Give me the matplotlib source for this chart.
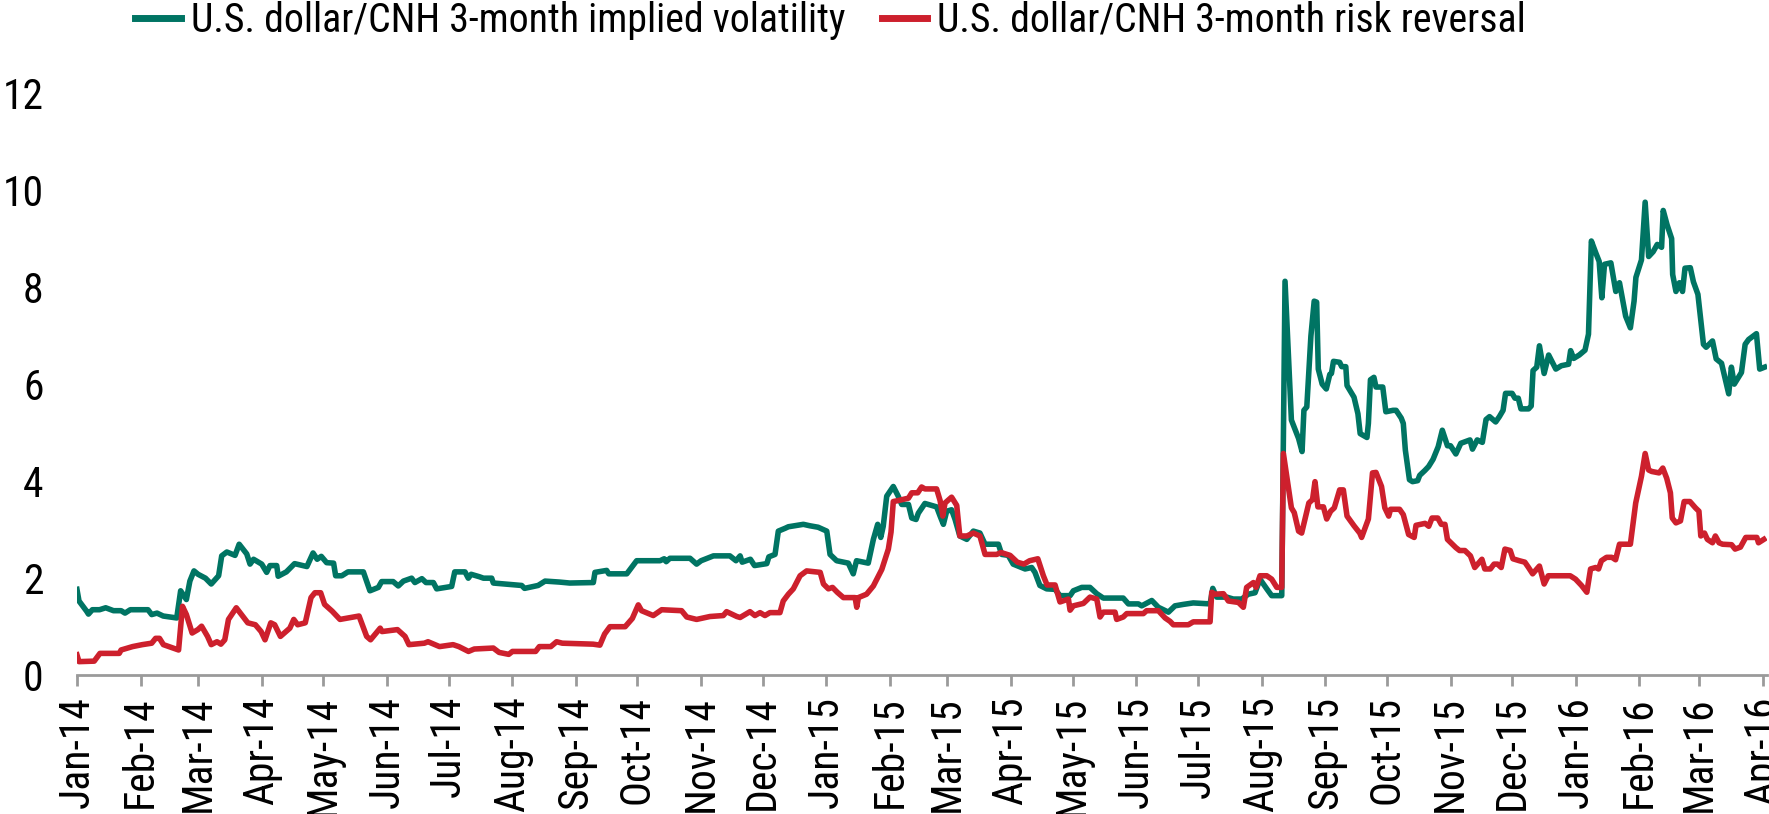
import matplotlib
matplotlib.use("Agg")
import matplotlib.pyplot as plt
import matplotlib.dates as mdates
from matplotlib.lines import Line2D
import pandas as pd

# ---------------- data ----------------
start_date = "2014-01-01"   # day 0 of the day offsets below

series_labels = ["U.S. dollar/CNH 3-month implied volatility",
                 "U.S. dollar/CNH 3-month risk reversal"]

# (days since 2014-01-01, value)
iv_points = [
    (0, 1.77), (1, 1.53), (4.7, 1.32), (5.6, 1.26), (7.5, 1.35), (11, 1.35), (14, 1.39), (17.8, 1.33),
    (21.5, 1.33), (23.4, 1.28), (26, 1.35), (34.6, 1.35), (36.4, 1.25), (39, 1.28), (42, 1.22), (48.6, 1.18),
    (50.5, 1.74), (53.3, 1.56), (55, 1.94), (57, 2.15), (59, 2.08), (62.6, 2.0), (65.4, 1.88), (69, 2.05),
    (70.5, 2.46), (73, 2.54), (77, 2.47), (79, 2.70), (82.7, 2.50), (84.3, 2.29), (86, 2.39), (90, 2.29),
    (92.4, 2.12), (94, 2.26), (97.3, 2.26), (98, 2.04), (102, 2.13), (106, 2.30), (112, 2.24), (115, 2.52),
    (117, 2.39), (119, 2.45), (121.6, 2.32), (125, 2.31), (126, 2.05), (129, 2.05), (132, 2.13), (139.5, 2.13),
    (142.7, 1.74), (146.8, 1.81), (148.4, 1.93), (154, 1.93), (156.5, 1.84), (159, 1.94), (163, 2.0), (164.6, 1.91),
    (168, 1.99), (170, 1.91), (173.6, 1.91), (175.2, 1.78), (182.5, 1.83), (184, 2.13), (189, 2.13), (190.6, 2.0),
    (192, 2.08), (196, 2.03), (198, 2.0), (202, 2.0), (202.8, 1.90), (216.6, 1.85), (218, 1.79), (224.6, 1.85),
    (228, 1.94), (235, 1.92), (240, 1.90), (251.5, 1.91), (252.3, 2.12), (258, 2.16), (259, 2.09), (267.8, 2.09),
    (272.6, 2.36), (284, 2.36), (286, 2.40), (287, 2.34), (288.8, 2.41), (298.6, 2.41), (301.8, 2.29), (304, 2.36),
    (310, 2.46), (318, 2.46), (321, 2.36), (323, 2.46), (324, 2.33), (328, 2.39), (330, 2.26), (336, 2.30),
    (337, 2.44), (340, 2.49), (341.6, 2.97), (345, 3.03), (346.5, 3.06), (353.8, 3.11), (357, 3.08), (361, 3.05),
    (365.2, 2.97), (366.8, 2.49), (370, 2.36), (375.7, 2.31), (378.1, 2.09), (379.7, 2.36), (385.4, 2.31), (387.9, 2.80),
    (390, 3.11), (391.5, 2.84), (392.7, 3.07), (394.4, 3.69), (397.6, 3.89),
    (400, 3.69), (401.7, 3.52), (405, 3.52), (406.6, 3.24), (408.7, 3.21), (409.8, 3.34), (413, 3.54), (418.7, 3.47),
    (420.4, 3.28), (422, 3.11), (423.6, 3.38), (426, 3.41), (427.7, 3.21), (430, 2.87), (433.4, 2.80), (436.6, 2.97),
    (439.8, 2.93), (442.3, 2.70), (448.8, 2.70), (450.4, 2.49), (453.6, 2.47), (456, 2.29), (461.8, 2.19), (465, 2.22),
    (466.6, 2.12), (469, 1.85), (472.3, 1.78), (476.4, 1.77), (478.8, 1.64), (483.7, 1.64), (485.3, 1.74), (489.4, 1.81),
    (493.4, 1.81), (496.7, 1.68), (499.9, 1.59), (509.6, 1.59), (512.1, 1.47), (517, 1.47), (518.6, 1.43), (523.5, 1.54),
    (526.7, 1.40), (531.6, 1.30), (534.8, 1.43), (538.9, 1.46), (543.7, 1.49), (551.9, 1.47), (553.2, 1.79), (555.1, 1.61),
    (560, 1.61), (563.2, 1.57), (567.3, 1.57), (570.5, 1.67), (573.8, 1.70), (576.2, 1.98), (579.5, 1.78), (581.9, 1.64),
    (586.8, 1.64), (588.4, 8.12), (591.5, 5.26), (595, 4.88), (596.7, 4.61), (597.6, 5.46), (599, 5.53), (601, 6.99),
    (602.6, 7.71), (603.8, 7.69), (604.6, 6.31), (606.5, 6.0), (608.5, 5.90), (610.2, 6.2), (611, 6.22), (612, 6.47),
    (615, 6.45), (616, 6.36), (618, 6.36), (618.6, 5.97), (622, 5.73), (623.9, 5.39), (625, 4.98), (628.3, 4.90),
    (629, 5.19), (630, 6.09), (631.7, 6.14), (632.7, 5.94), (636, 5.94), (637.5, 5.43), (641, 5.46), (642.5, 5.46),
    (645, 5.3), (646, 5.19), (647, 4.64), (649, 4.03), (650.5, 3.99), (653, 4.01), (654, 4.12), (656.5, 4.22),
    (658.3, 4.30), (660.5, 4.45), (663, 4.71), (665, 5.05), (667.5, 4.73), (669, 4.73), (671.6, 4.56), (674, 4.78),
    (678.5, 4.85), (679.7, 4.66), (682, 4.85), (684.5, 4.80), (686.3, 5.27), (688, 5.33), (691, 5.22), (692.8, 5.33),
    (694.6, 5.46), (695.8, 5.81), (699, 5.81), (700.4, 5.71), (702, 5.71), (703.3, 5.49), (707, 5.49), (708.3, 5.55),
    (709.2, 6.28), (711, 6.35), (712.3, 6.79), (714.6, 6.22), (716.8, 6.6), (720.3, 6.31), (723, 6.38), (726.5, 6.41),
    (727.5, 6.69), (729, 6.53), (731.7, 6.6), (734.5, 6.70), (736.2, 7.03), (737.6, 8.95), (739.8, 8.70), (741.4, 8.53),
    (742.7, 7.78), (744, 8.47), (747.1, 8.50), (749.5, 7.91), (751.3, 8.09), (754.3, 7.40), (756.6, 7.16), (758.4, 7.71),
    (759.3, 8.20), (762, 8.56), (763.8, 9.75), (765.5, 8.63), (767.7, 8.73), (769.7, 8.88), (771.8, 8.82), (772.6, 9.58),
    (774.5, 9.28), (776.7, 9.0), (777.2, 8.26), (778.8, 7.91), (780.5, 8.09), (782, 7.91), (783.2, 8.39), (785.8, 8.40),
    (787.3, 8.11), (789.5, 7.85), (792.2, 6.82), (793.5, 6.76), (796.6, 6.89), (798.4, 6.52), (801, 6.43), (804.5, 5.80),
    (805.8, 6.35), (807.2, 6.0), (810.7, 6.24), (812.5, 6.82), (814.2, 6.92), (818, 7.04), (819.6, 6.31), (822, 6.35),
]

rr_points = [
    (0, 0.42), (1, 0.28), (8.4, 0.29), (11.2, 0.45), (20.6, 0.45), (21.5, 0.52), (27.1, 0.59), (31.8, 0.63),
    (36.4, 0.66), (38.3, 0.76), (40.2, 0.76), (42.1, 0.63), (49.5, 0.52), (51.4, 1.42), (53.3, 1.25), (56.1, 0.87),
    (58.9, 0.94), (60.7, 1.01), (63.6, 0.80), (65.4, 0.63), (68.2, 0.69), (70.1, 0.64), (72, 0.73), (73.8, 1.15),
    (77.6, 1.39), (79.4, 1.29), (83.2, 1.08), (86.9, 1.04), (89.7, 0.90), (91.6, 0.73), (94.4, 1.08), (96.3, 1.04),
    (99.1, 0.80), (103.7, 0.97), (105.6, 1.15), (107.5, 1.04), (111.2, 1.08), (114, 1.60), (115.9, 1.70), (118.7, 1.70),
    (120.6, 1.46), (124.3, 1.32), (128.1, 1.15), (137.4, 1.22), (141.1, 0.80), (143, 0.73), (147.7, 0.97), (148.6, 0.90),
    (156.1, 0.94), (159.8, 0.80), (161.7, 0.63), (169.2, 0.66), (171, 0.69), (176.6, 0.59), (183.2, 0.63), (186, 0.59),
    (190.7, 0.49), (193.5, 0.54), (202.8, 0.56), (205.6, 0.47), (210.3, 0.43), (212.1, 0.49), (223.4, 0.49), (225.2, 0.59),
    (230.8, 0.59), (233.6, 0.69), (236.4, 0.66), (251.4, 0.64), (254.7, 0.62), (257, 0.85), (259.6, 1.0), (267, 1.0),
    (270.5, 1.17), (273.4, 1.45), (275, 1.33), (280.7, 1.23), (284.8, 1.35), (294.5, 1.33), (297, 1.20), (301.8, 1.15),
    (308.3, 1.21), (314.8, 1.23), (316.4, 1.31), (321.4, 1.21), (323, 1.19), (327.8, 1.31), (330.2, 1.23), (332.7, 1.29),
    (335.1, 1.23), (337.5, 1.29), (342.4, 1.29), (344, 1.53), (346.5, 1.67), (348.9, 1.78), (352.2, 2.05), (355.4, 2.15),
    (362, 2.12), (363.6, 1.88), (366, 1.78), (368, 1.81), (370.3, 1.71), (373.3, 1.60), (379, 1.60), (379.8, 1.40),
    (380.6, 1.60), (384.6, 1.67), (387.9, 1.84), (392, 2.18), (395.2, 2.60), (396.5, 2.95), (397.6, 3.58),
    (400, 3.6), (405, 3.65), (406.6, 3.76), (409.5, 3.76), (411.4, 3.88), (413, 3.84), (418.7, 3.84), (420.4, 3.6),
    (421.7, 3.28), (422.8, 3.55), (426, 3.67), (428.5, 3.5), (430, 2.87), (433.4, 2.87), (436.6, 2.93), (439.8, 2.87),
    (442.3, 2.49), (448, 2.49), (450, 2.53), (454.5, 2.47), (458, 2.33), (461.2, 2.29), (464, 2.36), (468, 2.40),
    (470.7, 2.05), (472.5, 1.86), (476.4, 1.86), (478.8, 1.51), (482.9, 1.57), (483.7, 1.34), (485.3, 1.43), (490.2, 1.48),
    (493.4, 1.61), (496.7, 1.57), (498.3, 1.20), (499.9, 1.30), (505.6, 1.30), (506.4, 1.15), (509.6, 1.20), (511.3, 1.27),
    (519.4, 1.27), (521, 1.33), (526.7, 1.33), (530, 1.18), (532.4, 1.11), (534, 1.04), (541.3, 1.04), (543.7, 1.10),
    (551.9, 1.10), (552.7, 1.71), (554.3, 1.67), (558.4, 1.68), (560.8, 1.53), (565.7, 1.50), (568.1, 1.40), (569.7, 1.81),
    (573, 1.91), (574.3, 1.81), (576.2, 2.05), (579.5, 2.05), (581.9, 1.98), (584.4, 1.81), (586.8, 1.81), (587.6, 4.57),
    (591.5, 3.45), (592.9, 3.35), (595, 2.97), (596.5, 2.93), (600, 3.55), (601.8, 3.62), (603, 3.99), (604.4, 3.47),
    (607.1, 3.47), (608.7, 3.22), (610.6, 3.38), (612.4, 3.45), (615, 3.82), (616.8, 3.82), (618.6, 3.28), (622, 3.08),
    (624.8, 2.93), (625.7, 2.84), (629, 3.22), (631, 4.17), (632.7, 4.18), (635.4, 3.89), (637, 3.45), (638.9, 3.28),
    (639.8, 3.42), (644.2, 3.42), (646, 3.31), (648.6, 2.90), (651.3, 2.84), (652.2, 3.09), (656.6, 3.13), (658.4, 3.07),
    (660, 3.24), (662.8, 3.24), (664.5, 3.11), (666.3, 3.11), (667.5, 2.80), (671.6, 2.63), (673.4, 2.57), (676, 2.57),
    (678.7, 2.46), (680.8, 2.22), (684.3, 2.39), (685.7, 2.19), (688.4, 2.19), (690.2, 2.29), (691.9, 2.29), (693.7, 2.22),
    (695.5, 2.60), (698.1, 2.57), (699.4, 2.40), (702.5, 2.36), (705.2, 2.33), (707, 2.22), (709, 2.09), (712.3, 2.25),
    (714.6, 1.88), (716.6, 2.05), (727.3, 2.05), (729.9, 1.98), (732.8, 1.85), (735.4, 1.71), (737.2, 2.19), (739.7, 2.22),
    (741.1, 2.19), (742.5, 2.36), (745, 2.43), (747.6, 2.43), (749.4, 2.38), (751.3, 2.70), (756.6, 2.70), (759.2, 3.55),
    (762, 4.10), (763.8, 4.57), (765.5, 4.23), (767, 4.20), (770.6, 4.17), (772.4, 4.27), (774.3, 4.06), (776.1, 3.76),
    (777, 3.24), (778.8, 3.14), (781, 3.18), (782.8, 3.58), (785.6, 3.58), (788.3, 3.45), (790, 3.38), (790.9, 2.87),
    (792.7, 2.93), (794.1, 2.80), (796.6, 2.73), (798, 2.87), (799.8, 2.73), (801.5, 2.70), (805.9, 2.69), (807.6, 2.60),
    (810.2, 2.64), (812.8, 2.84), (818.2, 2.84), (819, 2.73), (821.6, 2.80),
]

y_ticks = [0, 2, 4, 6, 8, 10, 12]
x_end_days = 823

# ---------------- style ----------------
TEAL = "#007463"
RED = "#CD202D"
AXIS_GRAY = "#9a9a9a"

plt.rcParams["font.family"] = ["Roboto Condensed", "DejaVu Sans"]
FS = 30
FS_LEG = 28.7

t0 = pd.Timestamp(start_date)


def to_series(points):
    d = [t0 + pd.Timedelta(days=p[0]) for p in points]
    v = [p[1] for p in points]
    return d, v


fig = plt.figure(figsize=(17.69, 8.14), dpi=100)
ax = fig.add_axes([0.0435, 0.1705, 0.9552, 0.7152])

iv_d, iv_v = to_series(iv_points)
rr_d, rr_v = to_series(rr_points)
ax.plot(iv_d, iv_v, color=TEAL, lw=4.0, zorder=3)
ax.plot(rr_d, rr_v, color=RED, lw=4.0, zorder=4)

ax.set_xlim(t0, t0 + pd.Timedelta(days=x_end_days))
ax.set_ylim(0, 12)
ax.set_yticks(y_ticks)
ax.set_yticklabels([str(t) for t in y_ticks])

ax.xaxis.set_major_locator(mdates.MonthLocator())
ax.xaxis.set_major_formatter(mdates.DateFormatter("%b-%y"))
for lab in ax.get_xticklabels():
    lab.set_rotation(90)

ax.tick_params(axis="x", length=8, width=2, color=AXIS_GRAY, direction="out", pad=7, labelsize=FS)
ax.tick_params(axis="y", length=0, pad=24, labelsize=FS)
for s in ("left", "top", "right"):
    ax.spines[s].set_visible(False)
ax.spines["bottom"].set_color(AXIS_GRAY)
ax.spines["bottom"].set_linewidth(2)

handles = [Line2D([0], [0], color=TEAL, lw=5), Line2D([0], [0], color=RED, lw=5)]
fig.legend(handles, series_labels, loc="center left", bbox_to_anchor=(0.0765, 0.975),
           ncol=2, frameon=False, fontsize=FS_LEG, handlelength=1.15, handletextpad=0.25,
           columnspacing=0.9, borderpad=0, borderaxespad=0)

fig.savefig("out.png", dpi=100)
